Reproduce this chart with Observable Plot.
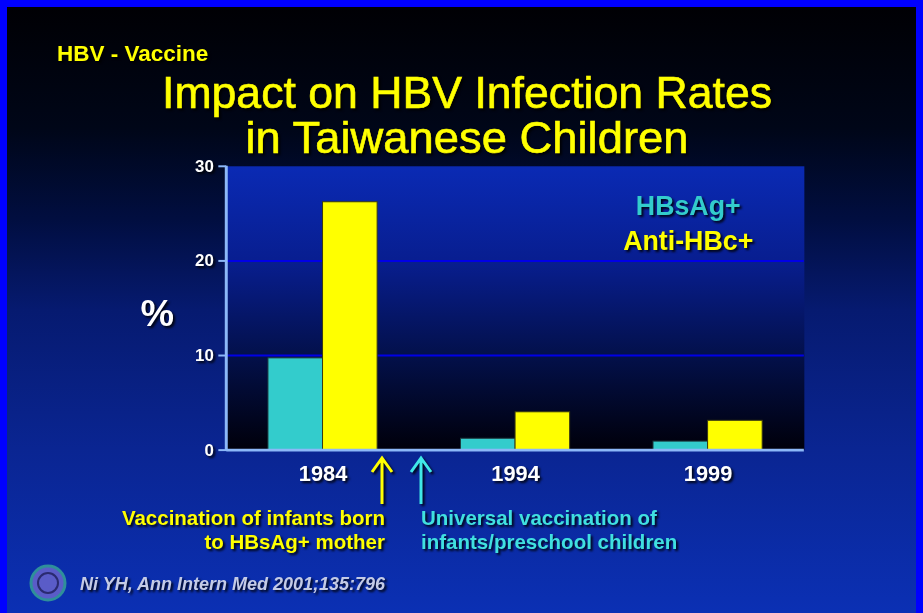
<!DOCTYPE html>
<html>
<head>
<meta charset="utf-8">
<script src="https://cdn.jsdelivr.net/npm/d3@7"></script>
<script src="https://cdn.jsdelivr.net/npm/@observablehq/plot@0.6"></script>
<style>
  html, body { margin: 0; padding: 0; background: #000; }
  #slide {
    position: relative; width: 923px; height: 613px; box-sizing: border-box; overflow: hidden;
    border-top: 7px solid #0000ff; border-left: 7px solid #0000ff; border-right: 7px solid #0000ff;
    background: linear-gradient(to bottom, #000004 0%, #000618 20%, #010e40 35%, #061a70 50%, #0a2592 73%, #0b30b4 100%);
    font-family: "Liberation Sans", Arial, Helvetica, sans-serif;
  }
  #chart { position: absolute; left: -7px; top: 133px; }
  #overlay { position: absolute; left: -7px; top: -7px; }
  .sh { filter: drop-shadow(2px 2px 1px rgba(0,0,0,0.85)); }
  #chart text { filter: drop-shadow(2px 2px 1px rgba(0,0,0,0.85)); }
</style>
</head>
<body>
<div id="slide">
  <div id="chart"></div>
  <svg id="overlay" width="923" height="613" font-family="Liberation Sans, Arial, sans-serif">
    <g class="sh">
      <text x="57" y="61" font-size="22.5" font-weight="bold" fill="#ffff00">HBV - Vaccine</text>
      <text x="467" y="108" text-anchor="middle" font-size="44.5" fill="#ffff00" stroke="#ffff00" stroke-width="0.6" textLength="610" lengthAdjust="spacingAndGlyphs">Impact on HBV Infection Rates</text>
      <text x="467" y="153" text-anchor="middle" font-size="44.5" fill="#ffff00" stroke="#ffff00" stroke-width="0.6" textLength="443" lengthAdjust="spacingAndGlyphs">in Taiwanese Children</text>
    </g>
    <g class="sh" stroke-width="3" fill="none" stroke-linecap="butt">
      <path d="M382,504 L382,459 M372,472 L382,458 L392,472" stroke="#ffff00"/>
      <path d="M421,504 L421,459 M411,472 L421,458 L431,472" stroke="#40e8e8"/>
    </g>
    <g class="sh" font-size="20.5" font-weight="bold">
      <text x="385" y="525" text-anchor="end" fill="#ffff00">Vaccination of infants born</text>
      <text x="385" y="549" text-anchor="end" fill="#ffff00">to HBsAg+ mother</text>
      <text x="421" y="525" fill="#40e0e0">Universal vaccination of</text>
      <text x="421" y="549" fill="#40e0e0">infants/preschool children</text>
    </g>
    <g>
      <circle cx="48" cy="583" r="17" fill="#5a5cc8" stroke="#2f8f9a" stroke-width="3"/>
      <circle cx="48" cy="583" r="10" fill="none" stroke="#2a2a70" stroke-width="2"/>
    </g>
    <text class="sh" x="80" y="590" font-size="18" font-weight="bold" font-style="italic" fill="#c4cbe6">Ni YH, Ann Intern Med 2001;135:796</text>
  </svg>
</div>
<script>
const years = ["1984", "1994", "1999"];
const hbsag = [9.7, 1.2, 0.9];
const antiHbc = [26.2, 4.0, 3.1];
const yTicks = [0, 10, 20, 30];
const seriesNames = ["HBsAg+", "Anti-HBc+"];

const data = years.map((year, i) => ({year, hbsag: hbsag[i], anti: antiHbc[i]}));

const chart = Plot.plot({
  width: 923,
  height: 360,
  marginTop: 26,
  marginBottom: 48,
  marginLeft: 228,
  marginRight: 113,
  style: {background: "transparent", color: "white", fontFamily: "Liberation Sans, Arial, sans-serif", overflow: "visible"},
  x: {type: "band", domain: years, paddingInner: 0.433, paddingOuter: 0.2165, round: false, label: null},
  y: {domain: [0, 30], ticks: yTicks, label: null},
  marks: [
    Plot.frame({fill: "url(#plotBg)", stroke: "none"}),
    Plot.gridY(yTicks.filter(d => d > 0 && d < 30), {stroke: "#0000e6", strokeOpacity: 1, strokeWidth: 2}),
    Plot.barY(data, {x: "year", y: "hbsag", fill: "#33cccc", stroke: "#1d3b40", strokeWidth: 1, insetRight: 55}),
    Plot.barY(data, {x: "year", y: "anti", fill: "#ffff00", stroke: "#3a3a10", strokeWidth: 1, insetLeft: 55}),
    Plot.ruleY([0], {stroke: "#8cb8f8", strokeWidth: 3}),
    Plot.axisY({ticks: yTicks, tickSize: 8, tickPadding: 5, stroke: "#8cb8f8", strokeWidth: 2, fill: "white", fontSize: 17, fontWeight: "bold"}),
    Plot.axisX({tickSize: 0, tickPadding: 15, fill: "white", fontSize: 22, fontWeight: "bold"}),
    Plot.text(["%"], {text: d => d, frameAnchor: "left", textAnchor: "middle", lineAnchor: "middle", dx: -70, dy: 6, fill: "white", fontSize: 38, fontWeight: "bold"}),
    Plot.text([seriesNames[0]], {text: d => d, frameAnchor: "top-right", textAnchor: "middle", lineAnchor: "middle", dx: -117, dy: 40, fill: "#33cccc", fontSize: 27, fontWeight: "bold"}),
    Plot.text([seriesNames[1]], {text: d => d, frameAnchor: "top-right", textAnchor: "middle", lineAnchor: "middle", dx: -117, dy: 76, fill: "#ffff00", fontSize: 27, fontWeight: "bold"})
  ]
});

// gradient for the plot area
const sel = d3.select(chart);
const defs = sel.insert("defs", ":first-child");
const g = defs.append("linearGradient").attr("id", "plotBg").attr("x1", 0).attr("y1", 0).attr("x2", 0).attr("y2", 1);
[["0%", "#0a2ab4"], ["33%", "#081e90"], ["67%", "#03104a"], ["100%", "#00000a"]].forEach(([o, c]) =>
  g.append("stop").attr("offset", o).attr("stop-color", c));

// left axis line along the frame edge
const yr = chart.scale("y").range;
sel.append("line")
  .attr("x1", 228).attr("x2", 228)
  .attr("y1", Math.min(...yr)).attr("y2", Math.max(...yr) + 1.5)
  .attr("stroke", "#8cb8f8").attr("stroke-width", 3);

document.getElementById("chart").appendChild(chart);
</script>
</body>
</html>
